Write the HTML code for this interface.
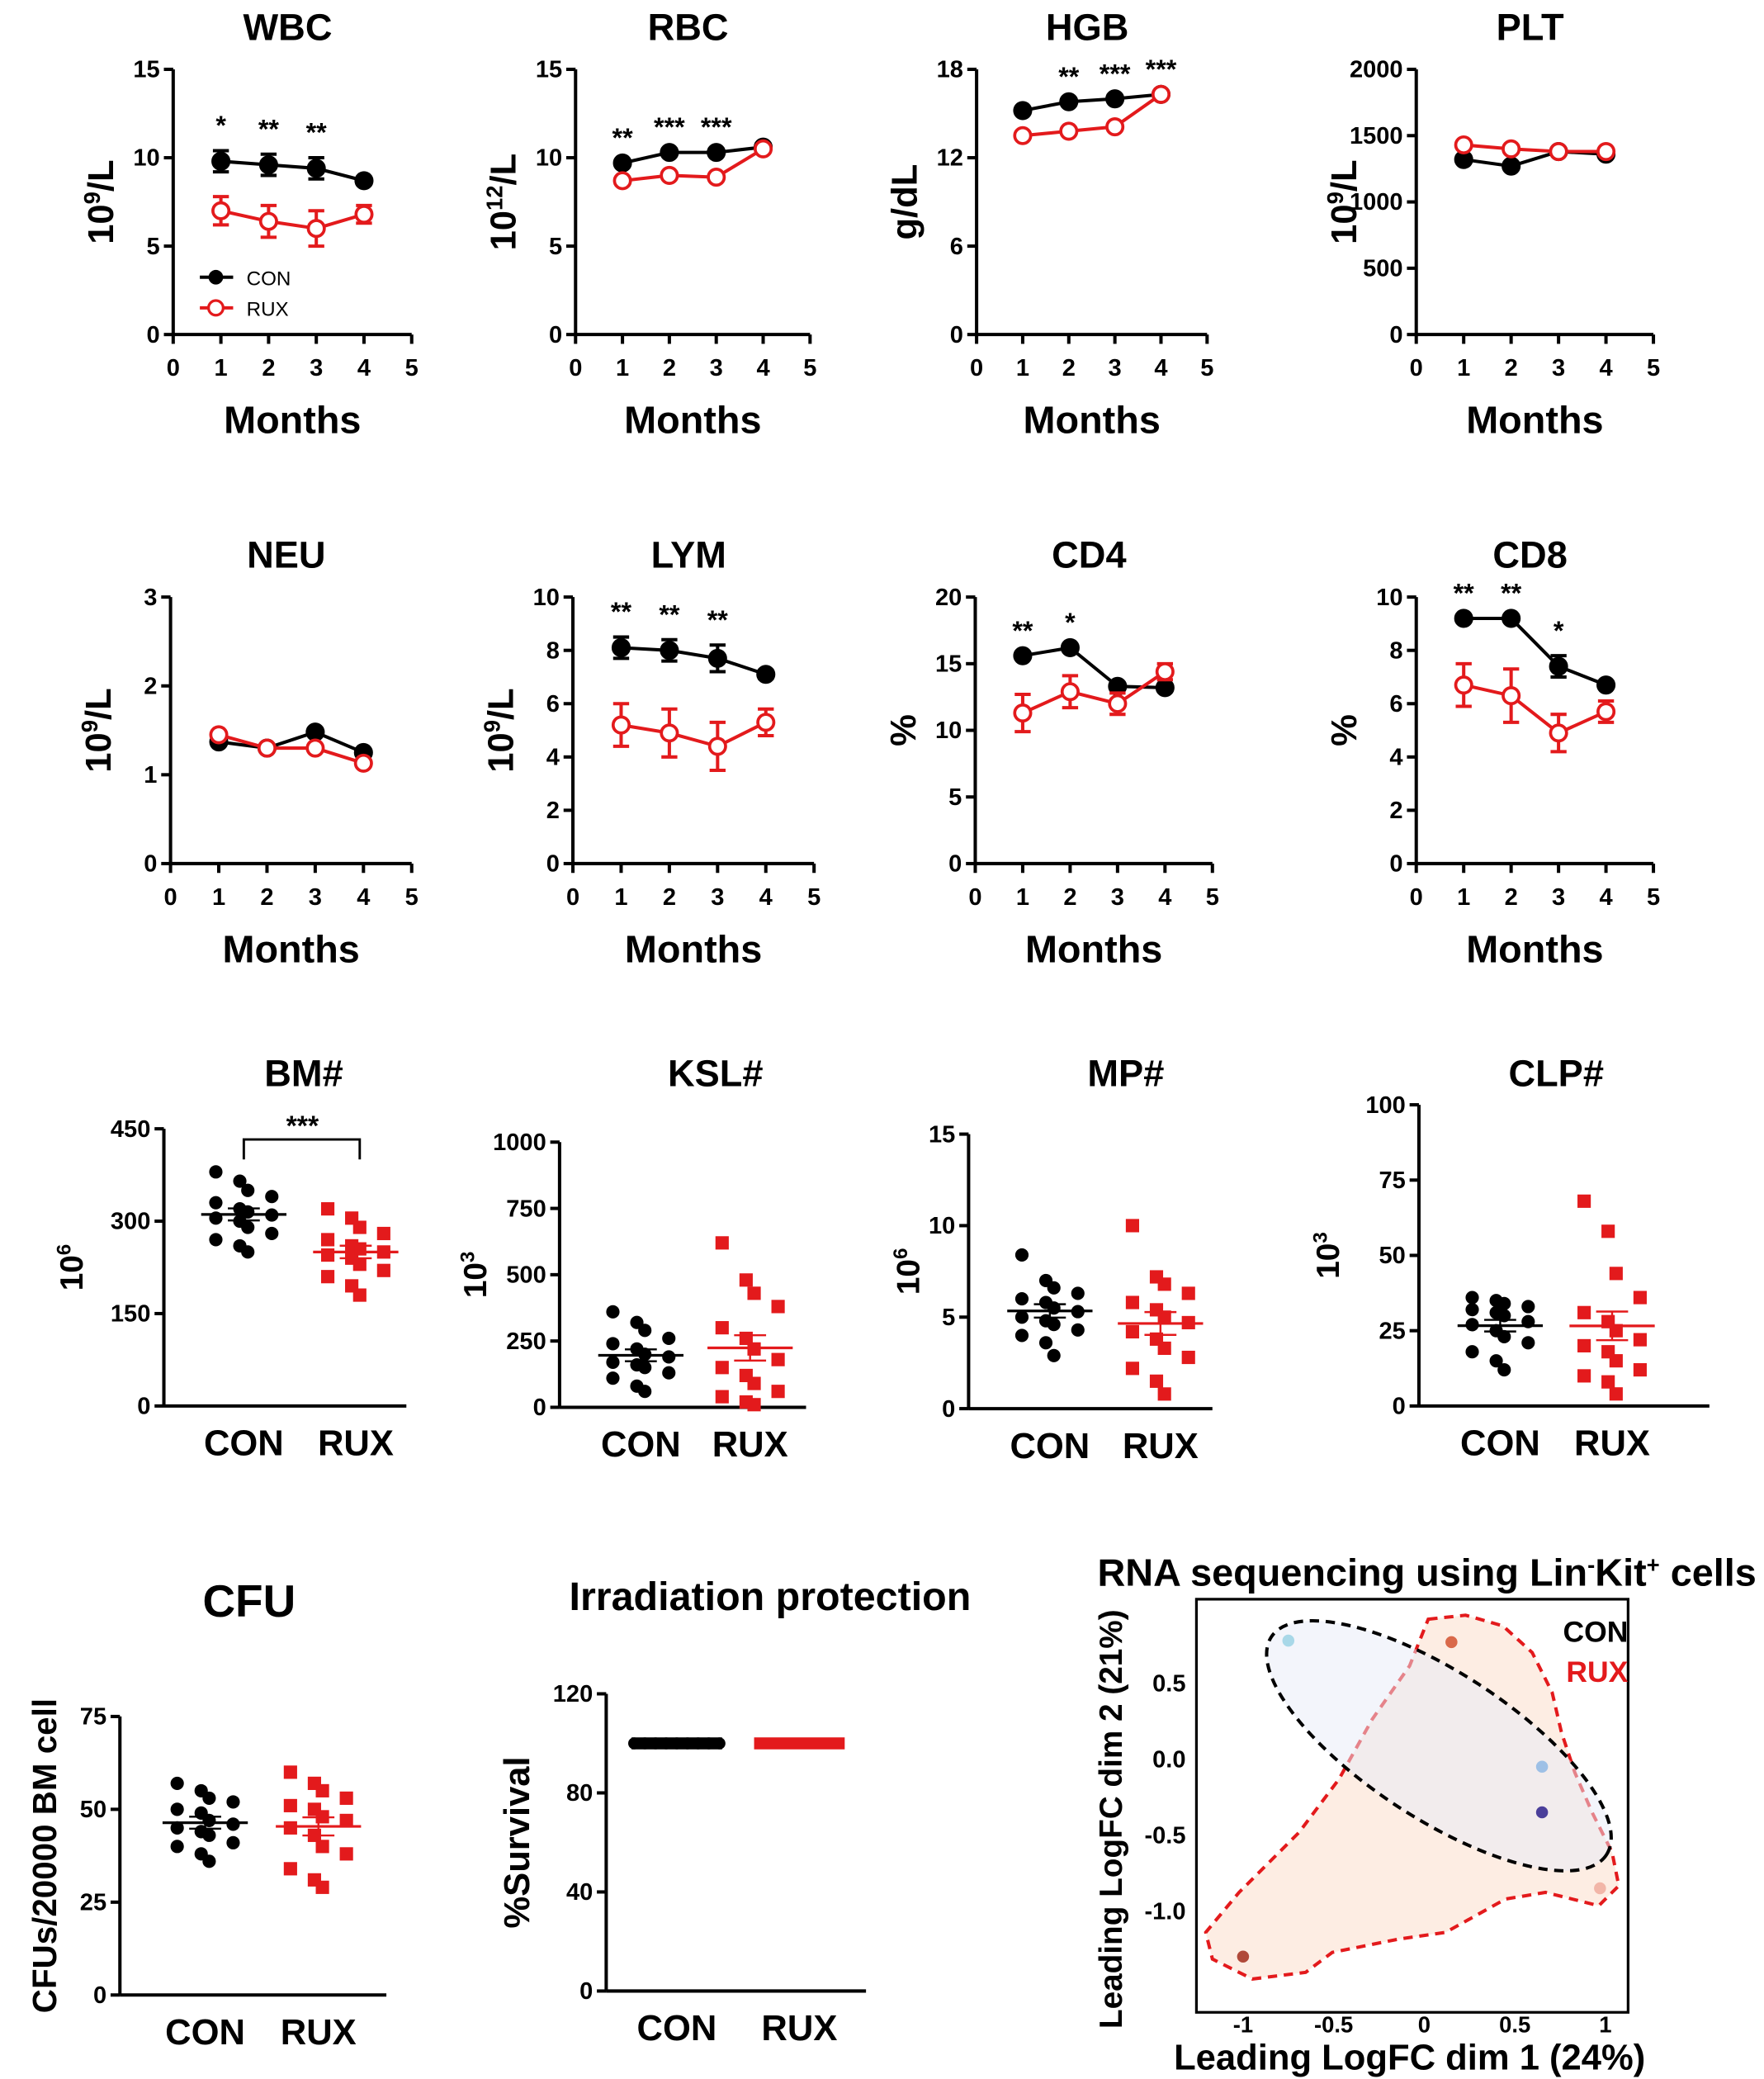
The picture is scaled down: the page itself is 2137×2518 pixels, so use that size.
<!DOCTYPE html>
<html><head><meta charset="utf-8"><style>
html,body{margin:0;padding:0;background:#fff}
svg{display:block}
text{font-family:"Liberation Sans",Arial,sans-serif;font-weight:bold;fill:#000}
</style></head><body>
<svg id="fig" width="2137" height="2518" viewBox="0 0 1324 1560" xmlns="http://www.w3.org/2000/svg"></svg>
<script>
// ---- data ----
const months = [1,2,3,4];
const wbcCon = [9.8,9.6,9.4,8.7], wbcConErr=[0.6,0.6,0.6,0.2], wbcRux=[7.0,6.4,6.0,6.8], wbcRuxErr=[0.8,0.9,1.0,0.5], wbcStars=["*","**","**",""];
const rbcCon = [9.7,10.3,10.3,10.6], rbcRux=[8.7,9.0,8.9,10.5], rbcStars=["**","***","***",""];
const hgbCon = [15.2,15.8,16.0,16.3], hgbRux=[13.5,13.8,14.1,16.3], hgbStars=["","**","***","***"];
const pltCon = [1320,1270,1380,1360], pltRux=[1430,1400,1380,1380], pltStars=["","","",""];
const neuCon = [1.37,1.3,1.48,1.25], neuRux=[1.45,1.3,1.3,1.13], neuStars=["","","",""];
const lymCon = [8.1,8.0,7.7,7.1], lymConErr=[0.4,0.4,0.5,0.15], lymRux=[5.2,4.9,4.4,5.3], lymRuxErr=[0.8,0.9,0.9,0.5], lymStars=["**","**","**",""];
const cd4Con = [15.6,16.2,13.3,13.2], cd4Rux=[11.3,12.9,12.0,14.4], cd4RuxErr=[1.4,1.2,0.8,0.6], cd4Stars=["**","*","",""];
const cd8Con = [9.2,9.2,7.4,6.7], cd8ConErr=[0,0,0.4,0.1], cd8Rux=[6.7,6.3,4.9,5.7], cd8RuxErr=[0.8,1.0,0.7,0.4], cd8Stars=["**","**","*",""];
const zeros=[0,0,0,0];
const bmCon=[380,365,350,340,330,320,315,310,305,300,290,280,270,260,250], bmRux=[320,305,290,280,270,260,255,250,245,240,230,220,210,195,180];
const kslCon=[360,320,290,260,240,220,200,190,170,160,150,130,110,80,60], kslRux=[620,480,430,380,300,260,220,180,150,120,90,60,40,20,10];
const mpCon=[8.4,7,6.6,6.3,6,5.8,5.5,5.3,5,4.8,4.6,4.3,4,3.6,2.9], mpRux=[10,7.2,6.8,6.3,5.8,5.4,5,4.7,4.2,3.8,3.3,2.8,2.2,1.5,0.8];
const clpCon=[36,35,34,33,32,31,30,28,27,25,23,21,18,15,12], clpRux=[68,58,44,36,31,28,25,22,20,18,15,12,10,8,4];
const cfuCon=[57,55,53,52,50,49,47,46,45,44,43,41,40,38,36], cfuRux=[60,57,55,53,51,50,48,47,45,43,40,38,34,31,29];
const survCon=[100], survRux=[100];
const rnaX=[-0.75,0.15,0.65,0.65,0.97,-1.0], rnaY=[0.78,0.77,-0.05,-0.35,-0.85,-1.3];
const rnaColors=["#a8d8e8","#d9694a","#9ec0e6","#4b3f9a","#f2b6a8","#b04a3a"];

const svg=document.getElementById('fig');
const NS="http://www.w3.org/2000/svg";
function mk(tag,attrs,parent){const e=document.createElementNS(NS,tag);for(const k in attrs)e.setAttribute(k,attrs[k]);(parent||svg).appendChild(e);return e;}
function txt(x,y,s,size,anchor,parent,rot){const e=mk('text',{x:x,y:y,'font-size':size,'text-anchor':anchor||'middle'},parent);if(rot)e.setAttribute('transform','rotate(-90 '+x+' '+y+')');e.textContent=s;return e;}

function lineChart(c){
  const g=mk('g',{});
  
  
  const sx=v=>c.x0+(c.x5-c.x0)*v/5, sy=v=>c.yb-(c.yb-c.yt)*v/c.ymax;
  const t=txt(c.x0+(c.x5-c.x0)*0.48,c.yt-22,c.title,28,'middle',g);
  
  mk('line',{x1:c.x0,y1:c.yt,x2:c.x0,y2:c.yb,stroke:'#000','stroke-width':2.5},g);
  mk('line',{x1:c.x0,y1:c.yb,x2:c.x5,y2:c.yb,stroke:'#000','stroke-width':2.5},g);
  c.yticks.forEach(v=>{mk('line',{x1:c.x0-7,y1:sy(v),x2:c.x0,y2:sy(v),stroke:'#000','stroke-width':2.5},g);txt(c.x0-10,sy(v)+6,String(v),18,'end',g);});
  [0,1,2,3,4,5].forEach(v=>{mk('line',{x1:sx(v),y1:c.yb,x2:sx(v),y2:c.yb+7,stroke:'#000','stroke-width':2.5},g);txt(sx(v),c.yb+31,String(v),18,'middle',g);});
  const m=txt((c.x0+c.x5)/2,c.yb+74,'Months',29,'middle',g);
  
  const yl=mk('text',{x:c.x0-45,y:(c.yt+c.yb)/2,'font-size':27,'text-anchor':'middle',transform:'rotate(-90 '+(c.x0-45)+' '+((c.yt+c.yb)/2)+')'},g);
  yl.innerHTML=c.ylabel;
  
  const series=[[c.con,c.conErr,'#000',true],[c.rux,c.ruxErr,'#e31a1c',false]];
  series.forEach(([d,err,col,filled])=>{
    const pts=months.map((m,i)=>sx(m)+','+sy(d[i])).join(' ');
    const pl=mk('polyline',{points:pts,fill:'none',stroke:col,'stroke-width':2.5},g);
    
    months.forEach((m,i)=>{
      const e=err[i]*(c.yb-c.yt)/c.ymax;
      if(e>1){mk('line',{x1:sx(m),y1:sy(d[i])-e,x2:sx(m),y2:sy(d[i])+e,stroke:col,'stroke-width':2.5},g);
        mk('line',{x1:sx(m)-6,y1:sy(d[i])-e,x2:sx(m)+6,y2:sy(d[i])-e,stroke:col,'stroke-width':2.5},g);
        mk('line',{x1:sx(m)-6,y1:sy(d[i])+e,x2:sx(m)+6,y2:sy(d[i])+e,stroke:col,'stroke-width':2.5},g);}
      const p=mk('circle',{cx:sx(m),cy:sy(d[i]),r:6,fill:filled?'#000':'#fff',stroke:col,'stroke-width':2.3},g);
      
    });
  });
  c.stars.forEach((s,i)=>{if(s){const top=Math.max(c.con[i]+c.conErr[i],c.rux[i]+c.ruxErr[i]);const st=txt(sx(months[i]),sy(top)-12,s,20,'middle',g);}});
  return g;
}
lineChart({name:'wbc',title:'WBC',x0:130,x5:309,yt:52,yb:251,ymax:15,yticks:[0,5,10,15],ylabel:'10<tspan font-size="17" dy="-10">9</tspan><tspan dy="10">/L</tspan>',con:wbcCon,conErr:wbcConErr,rux:wbcRux,ruxErr:wbcRuxErr,stars:wbcStars});
lineChart({name:'rbc',title:'RBC',x0:432,x5:608,yt:52,yb:251,ymax:15,yticks:[0,5,10,15],ylabel:'10<tspan font-size="17" dy="-10">12</tspan><tspan dy="10">/L</tspan>',con:rbcCon,conErr:zeros,rux:rbcRux,ruxErr:zeros,stars:rbcStars});
lineChart({name:'hgb',title:'HGB',x0:733,x5:906,yt:52,yb:251,ymax:18,yticks:[0,6,12,18],ylabel:'g/dL',con:hgbCon,conErr:zeros,rux:hgbRux,ruxErr:zeros,stars:hgbStars});
lineChart({name:'plt',title:'PLT',x0:1063,x5:1241,yt:52,yb:251,ymax:2000,yticks:[0,500,1000,1500,2000],ylabel:'10<tspan font-size="17" dy="-10">9</tspan><tspan dy="10">/L</tspan>',con:pltCon,conErr:zeros,rux:pltRux,ruxErr:zeros,stars:pltStars});
lineChart({name:'neu',title:'NEU',x0:128,x5:309,yt:448,yb:648,ymax:3,yticks:[0,1,2,3],ylabel:'10<tspan font-size="17" dy="-10">9</tspan><tspan dy="10">/L</tspan>',con:neuCon,conErr:zeros,rux:neuRux,ruxErr:zeros,stars:neuStars});
lineChart({name:'lym',title:'LYM',x0:430,x5:611,yt:448,yb:648,ymax:10,yticks:[0,2,4,6,8,10],ylabel:'10<tspan font-size="17" dy="-10">9</tspan><tspan dy="10">/L</tspan>',con:lymCon,conErr:lymConErr,rux:lymRux,ruxErr:lymRuxErr,stars:lymStars});
lineChart({name:'cd4',title:'CD4',x0:732,x5:910,yt:448,yb:648,ymax:20,yticks:[0,5,10,15,20],ylabel:'%',con:cd4Con,conErr:zeros,rux:cd4Rux,ruxErr:cd4RuxErr,stars:cd4Stars});
lineChart({name:'cd8',title:'CD8',x0:1063,x5:1241,yt:448,yb:648,ymax:10,yticks:[0,2,4,6,8,10],ylabel:'%',con:cd8Con,conErr:cd8ConErr,rux:cd8Rux,ruxErr:cd8RuxErr,stars:cd8Stars});

// WBC legend
const lg=mk('g',{});

mk('line',{x1:150,y1:208,x2:175,y2:208,stroke:'#000','stroke-width':2.5},lg);mk('circle',{cx:162,cy:208,r:5.5,fill:'#000'},lg);
txt(185,214,'CON',15,'start',lg).style.fontWeight='normal';
mk('line',{x1:150,y1:231,x2:175,y2:231,stroke:'#e31a1c','stroke-width':2.5},lg);mk('circle',{cx:162,cy:231,r:5.5,fill:'#fff',stroke:'#e31a1c','stroke-width':2},lg);
txt(185,237,'RUX',15,'start',lg).style.fontWeight='normal';

function scatter(c){
  const g=mk('g',{});
  
  
  const sy=v=>c.yb-(c.yb-c.yt)*v/c.ymax;
  if(c.title){const t=txt(c.tx,c.ty,c.title,c.tsize||28,'middle',g);}
  mk('line',{x1:c.x0,y1:c.yt,x2:c.x0,y2:c.yb,stroke:'#000','stroke-width':2.5},g);
  mk('line',{x1:c.x0,y1:c.yb,x2:c.x1,y2:c.yb,stroke:'#000','stroke-width':2.5},g);
  c.yticks.forEach(v=>{mk('line',{x1:c.x0-7,y1:sy(v),x2:c.x0,y2:sy(v),stroke:'#000','stroke-width':2.5},g);txt(c.x0-10,sy(v)+6,String(v),18,'end',g);});
  [[c.cx,'CON'],[c.rx,'RUX']].forEach(([x,l])=>{const t=txt(x,c.yb+37,l,27,'middle',g);});
  const yl=mk('text',{x:c.ylx,y:(c.yt+c.yb)/2,'font-size':c.ylsize||24,'text-anchor':'middle',transform:'rotate(-90 '+c.ylx+' '+((c.yt+c.yb)/2)+')'},g);
  yl.innerHTML=c.ylabel;
  [[c.con,c.cx,'#000',true],[c.rux,c.rx,'#e31a1c',false]].forEach(([d,x,col,circ])=>{
    if(c.line){const l=mk('line',{x1:x-34,y1:sy(d[0]),x2:x+34,y2:sy(d[0]),stroke:col,'stroke-width':9},g);
      
      if(circ){for(let k=0;k<9;k++){mk('circle',{cx:x-32+k*8,cy:sy(d[0]),r:4.5,fill:'#000'},g);}}return;}
    d.forEach((v,i)=>{
      const off=((i%4)-1.5)*12+((i%2)?3:-3);
      const p=circ?mk('circle',{cx:x+off,cy:sy(v),r:5,fill:col},g):mk('rect',{x:x+off-5,y:sy(v)-5,width:10,height:10,fill:col},g);
      
    });
    const mean=d.reduce((a,b)=>a+b,0)/d.length;
    const sd=Math.sqrt(d.reduce((a,b)=>a+(b-mean)*(b-mean),0)/(d.length-1))/Math.sqrt(d.length);
    const ml=mk('line',{x1:x-32,y1:sy(mean),x2:x+32,y2:sy(mean),stroke:col,'stroke-width':2},g);
    
    [mean-sd,mean+sd].forEach(v=>mk('line',{x1:x-12,y1:sy(v),x2:x+12,y2:sy(v),stroke:col,'stroke-width':1.5},g));
    mk('line',{x1:x,y1:sy(mean-sd),x2:x,y2:sy(mean+sd),stroke:col,'stroke-width':1.5},g);
  });
  return g;
}
const sup=(b,s)=>b+'<tspan font-size="15" dy="-9">'+s+'</tspan>';
const bm=scatter({name:'bm',title:'BM#',tx:228,ty:815,x0:123,x1:305,yt:847,yb:1055,ymax:450,yticks:[0,150,300,450],cx:183,rx:267,ylx:62,ylabel:sup('10','6'),con:bmCon,rux:bmRux});
mk('polyline',{points:'183,870 183,855 270,855 270,870',fill:'none',stroke:'#000','stroke-width':1.8},bm);
txt(227,852,'***',21,'middle',bm);
scatter({name:'ksl',title:'KSL#',tx:537,ty:815,x0:420,x1:605,yt:857,yb:1056,ymax:1000,yticks:[0,250,500,750,1000],cx:481,rx:563,ylx:365,ylabel:sup('10','3'),con:kslCon,rux:kslRux});
scatter({name:'mp',title:'MP#',tx:845,ty:815,x0:727,x1:910,yt:851,yb:1057,ymax:15,yticks:[0,5,10,15],cx:788,rx:871,ylx:690,ylabel:sup('10','6'),con:mpCon,rux:mpRux});
scatter({name:'clp',title:'CLP#',tx:1168,ty:815,x0:1065,x1:1283,yt:829,yb:1055,ymax:100,yticks:[0,25,50,75,100],cx:1126,rx:1210,ylx:1005,ylabel:sup('10','3'),con:clpCon,rux:clpRux});
scatter({name:'cfu',title:'CFU',tx:187,ty:1213,tsize:34,x0:90,x1:290,yt:1288,yb:1497,ymax:75,yticks:[0,25,50,75],cx:154,rx:239,ylx:42,ylsize:25,ylabel:'CFUs/20000 BM cell',con:cfuCon,rux:cfuRux});
scatter({name:'irradiation',title:'Irradiation protection',tx:578,ty:1208,tsize:30,x0:455,x1:650,yt:1271,yb:1494,ymax:120,yticks:[0,40,80,120],cx:508,rx:600,ylx:397,ylsize:27,ylabel:'%Survival',con:survCon,rux:survRux,line:true});

// RNA MDS plot
const rg=mk('g',{});

const rx=v=>1069+v*136, ry=v=>1320-v*114;
const rt=mk('text',{x:1071,y:1190,'font-size':29,'text-anchor':'middle'},rg);
rt.innerHTML='RNA sequencing using Lin<tspan font-size="17" dy="-10">-</tspan><tspan dy="10">Kit</tspan><tspan font-size="17" dy="-10">+</tspan><tspan dy="10"> cells</tspan>';

mk('rect',{x:898,y:1200,width:324,height:310,fill:'none',stroke:'#000','stroke-width':2},rg);
const poly=mk('polygon',{points:'1072,1215 1100,1212 1128,1220 1150,1240 1165,1270 1172,1300 1182,1330 1195,1360 1210,1390 1215,1415 1200,1430 1160,1420 1130,1425 1085,1450 1050,1455 1000,1465 980,1480 940,1485 910,1470 905,1450 930,1420 975,1375 1005,1335 1030,1290 1058,1250',fill:'#fde8dc','fill-opacity':0.8,stroke:'#e31a1c','stroke-width':2.5,'stroke-dasharray':'7,5'},rg);

const el=mk('ellipse',{cx:1080,cy:1310,rx:150,ry:55,transform:'rotate(33 1080 1310)',fill:'#e8ecf8','fill-opacity':0.5,stroke:'#000','stroke-width':2.5,'stroke-dasharray':'7,5'},rg);

rnaX.forEach((v,i)=>{const p=mk('circle',{cx:rx(v),cy:ry(rnaY[i]),r:4.5,fill:rnaColors[i]},rg);});
[-1,-0.5,0,0.5,1].forEach(v=>txt(rx(v),1525,String(v),17,'middle',rg));
[[0.5,'0.5'],[0,'0.0'],[-0.5,'-0.5'],[-1,'-1.0']].forEach(([v,s])=>txt(890,ry(v)+6,s,18,'end',rg));
txt(1058,1553,'Leading LogFC dim 1 (24%)',27,'middle',rg);
txt(842,1365,'Leading LogFC dim 2 (21%)',24,'middle',rg,true);
txt(1222,1232,'CON',22,'end',rg);
const rl=txt(1222,1262,'RUX',22,'end',rg);rl.style.fill='#e31a1c';
</script>
</body></html>
